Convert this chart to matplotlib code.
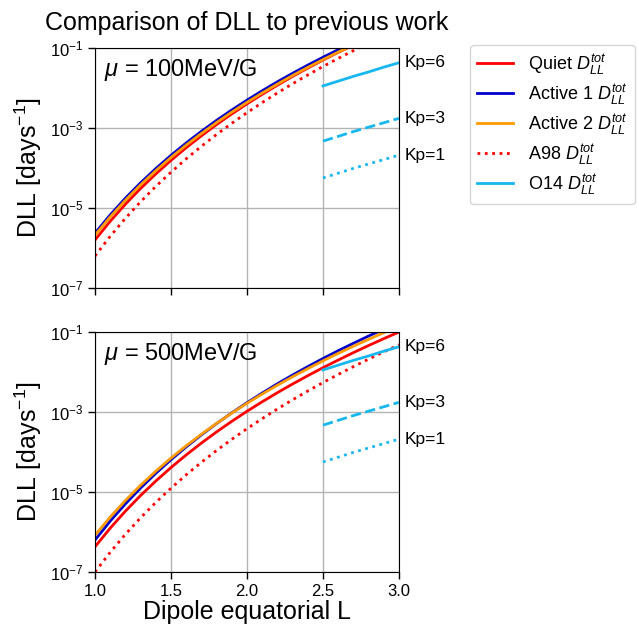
import numpy as np
import matplotlib
matplotlib.use("Agg")
import matplotlib.pyplot as plt
import matplotlib.transforms as mtransforms
from matplotlib.ticker import NullLocator

plt.rcParams['font.family'] = ['Liberation Sans', 'DejaVu Sans']
plt.rcParams['mathtext.fontset'] = 'custom'
plt.rcParams['mathtext.rm'] = 'Liberation Sans'
plt.rcParams['mathtext.it'] = 'Liberation Sans:italic'
plt.rcParams['mathtext.bf'] = 'Liberation Sans:bold'

# ---------------- data (log10 of D_LL in days^-1) ----------------
L = [1.0, 1.1, 1.2, 1.3, 1.4, 1.5, 1.6, 1.7, 1.8, 1.9, 2.0,
     2.1, 2.2, 2.3, 2.4, 2.5, 2.6, 2.7, 2.8, 2.9, 3.0]

# mu = 100 MeV/G
quiet_100 = [-5.80, -5.332, -4.905, -4.512, -4.149, -3.810, -3.493, -3.196, -2.915, -2.650, -2.398,
             -2.159, -1.931, -1.712, -1.504, -1.303, -1.111, -0.926, -0.747, -0.575, -0.409]
active1_100 = [-5.63, -5.173, -4.755, -4.371, -4.015, -3.684, -3.375, -3.084, -2.809, -2.550, -2.304,
               -2.070, -1.846, -1.633, -1.429, -1.233, -1.045, -0.864, -0.689, -0.520, -0.358]
active2_100 = [-5.68, -5.224, -4.807, -4.423, -4.068, -3.738, -3.429, -3.138, -2.864, -2.605, -2.360,
               -2.126, -1.903, -1.690, -1.486, -1.291, -1.103, -0.922, -0.748, -0.580, -0.417]
a98_100 = [-6.20, -5.707, -5.258, -4.844, -4.461, -4.105, -3.771, -3.458, -3.162, -2.883, -2.618,
           -2.366, -2.125, -1.895, -1.675, -1.464, -1.262, -1.067, -0.879, -0.697, -0.522]

# mu = 500 MeV/G
quiet_500 = [-6.37, -5.904, -5.479, -5.088, -4.726, -4.389, -4.074, -3.777, -3.498, -3.234, -2.983,
             -2.745, -2.518, -2.301, -2.093, -1.893, -1.702, -1.517, -1.339, -1.168, -1.002]
active1_500 = [-6.20, -5.728, -5.297, -4.901, -4.534, -4.193, -3.873, -3.573, -3.290, -3.022, -2.768,
               -2.527, -2.296, -2.076, -1.866, -1.664, -1.469, -1.283, -1.102, -0.929, -0.761]
active2_500 = [-6.08, -5.627, -5.213, -4.832, -4.480, -4.152, -3.845, -3.557, -3.285, -3.028, -2.784,
               -2.552, -2.331, -2.119, -1.917, -1.723, -1.536, -1.357, -1.184, -1.017, -0.856]
a98_500 = [-7.00, -6.508, -6.058, -5.644, -5.261, -4.905, -4.571, -4.258, -3.962, -3.683, -3.418,
           -3.166, -2.925, -2.695, -2.476, -2.265, -2.062, -1.867, -1.679, -1.497, -1.322]

# O14 (independent of mu)
L_o14 = [2.5, 2.6, 2.7, 2.8, 2.9, 3.0]
o14_kp6 = [-1.95, -1.83, -1.71, -1.60, -1.48, -1.37]
o14_kp3 = [-3.33, -3.21, -3.09, -2.98, -2.87, -2.76]
o14_kp1 = [-4.25, -4.13, -4.01, -3.90, -3.79, -3.68]
kp_labels = ['Kp=6', 'Kp=3', 'Kp=1']

mu_labels = [r'$\mu$ = 100MeV/G', r'$\mu$ = 500MeV/G']
series_labels = [r'Quiet $D_{LL}^{tot}$', r'Active 1 $D_{LL}^{tot}$', r'Active 2 $D_{LL}^{tot}$',
                 r'A98 $D_{LL}^{tot}$', r'O14 $D_{LL}^{tot}$']
yticks = [1e-7, 1e-5, 1e-3, 1e-1]
xticks = [1.0, 1.5, 2.0, 2.5, 3.0]

# ---------------- plotting ----------------
RED = '#ff0000'
BLUE = '#0000cc'
ORANGE = '#ff9a00'
CYAN = '#17b7f0'
LW = 2.0

fig = plt.figure(figsize=(6.39, 6.30), dpi=100)
ax1 = fig.add_axes([0.1487, 0.5429, 0.4757, 0.381])
ax2 = fig.add_axes([0.1487, 0.0921, 0.4757, 0.381])

panels = [
    (ax1, quiet_100, active1_100, active2_100, a98_100, mu_labels[0]),
    (ax2, quiet_500, active1_500, active2_500, a98_500, mu_labels[1]),
]

p = lambda v: 10.0 ** np.asarray(v)

handles = None
for ax, q, a1, a2, a98, mulab in panels:
    h1, = ax.plot(L, p(q), color=RED, lw=LW, label=series_labels[0])
    h2, = ax.plot(L, p(a1), color=BLUE, lw=LW, label=series_labels[1])
    h3, = ax.plot(L, p(a2), color=ORANGE, lw=LW, label=series_labels[2])
    h4, = ax.plot(L, p(a98), color=RED, lw=LW, ls=':', label=series_labels[3])
    h5, = ax.plot(L_o14, p(o14_kp6), color=CYAN, lw=LW, ls='-', label=series_labels[4])
    ax.plot(L_o14, p(o14_kp3), color=CYAN, lw=LW, ls='--')
    ax.plot(L_o14, p(o14_kp1), color=CYAN, lw=LW, ls=':')
    handles = [h1, h2, h3, h4, h5]

    ax.set_yscale('log')
    ax.set_xlim(1.0, 3.0)
    ax.set_ylim(1e-7, 1e-1)
    ax.set_yticks(yticks)
    ax.yaxis.set_minor_locator(NullLocator())
    ax.set_xticks(xticks)
    ax.grid(True, color='#b4b4b4', lw=1.0)
    ax.set_axisbelow(True)
    ax.tick_params(labelsize=12, length=5, width=1)
    ax.set_ylabel(r'DLL [days$^{-1}$]', fontsize=18)
    ax.text(0.03, 0.91, mulab, transform=ax.transAxes, fontsize=17, va='center', ha='left')

    trans = mtransforms.blended_transform_factory(ax.transAxes, ax.transData)
    for lab, series in zip(kp_labels, [o14_kp6, o14_kp3, o14_kp1]):
        ax.text(1.018, 10.0 ** series[-1], lab, transform=trans, fontsize=12.5,
                va='center', ha='left')

ax1.tick_params(labelbottom=False)
ax2.set_xlabel('Dipole equatorial L', fontsize=18, labelpad=1)
ax1.set_title('Comparison of DLL to previous work', fontsize=18, pad=13)

fig.legend(handles=handles, labels=series_labels, loc='upper left',
           bbox_to_anchor=(470 / 639, 1 - 45 / 630), bbox_transform=fig.transFigure,
           borderaxespad=0, fontsize=13, labelspacing=0.3)

fig.savefig('out.png', dpi=100)
